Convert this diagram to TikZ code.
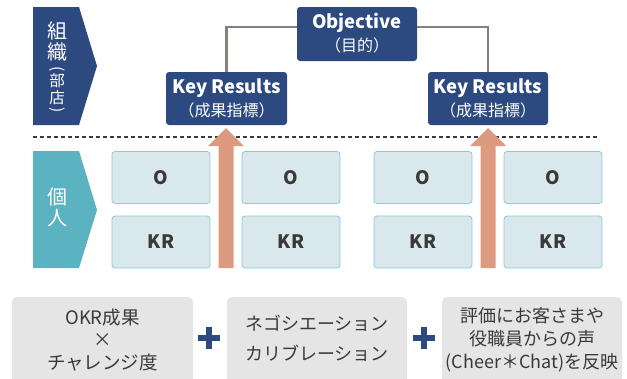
\documentclass[tikz,border=0pt]{standalone}
\usepackage{fontspec}
\setmainfont{Noto Sans CJK JP}
\definecolor{navy}{HTML}{2D4A80}
\definecolor{teal}{HTML}{5BB2C0}
\definecolor{lightfill}{HTML}{D8E8EC}
\definecolor{lightline}{HTML}{8DCAD3}
\definecolor{arrowc}{HTML}{DC9B7F}
\definecolor{connc}{HTML}{86807C}
\definecolor{greyfill}{HTML}{E6E5E6}
\definecolor{txtdark}{HTML}{3B3838}
\definecolor{dashc}{HTML}{3A3A3A}
\tikzset{
  navybox/.style={fill=navy, rounded corners=3pt, minimum width=121pt, minimum height=53pt, inner sep=0pt},
  okbox/.style={fill=lightfill, draw=lightline, line width=0.8pt, rounded corners=3pt, minimum width=98pt, minimum height=52pt, inner sep=0pt, text=txtdark, font=\fontsize{18.5}{22}\selectfont\bfseries},
  greybox/.style={fill=greyfill, rounded corners=5pt, minimum width=181pt, minimum height=90pt, inner sep=0pt},
  btext/.style={text=txtdark, align=center, inner sep=0pt},
  bigw/.style={text=white, inner sep=0pt, font=\fontsize{18.5}{22}\selectfont\bfseries},
  smallw/.style={text=white, inner sep=0pt, font=\fontsize{16}{18}\selectfont},
  bannerbig/.style={text=white, inner sep=0pt, font=\fontsize{20}{22}\selectfont},
  bannersmall/.style={text=white, inner sep=0pt, font=\fontsize{15.5}{17}\selectfont},
  conn/.style={draw=connc, line width=2.6pt},
  plusline/.style={draw=navy, line width=5.5pt},
}
\begin{document}
\begin{tikzpicture}[x=1pt,y=-1pt]
\useasboundingbox (0,0) rectangle (627,378);

% banners
\fill[navy] (33,7) -- (79,7) -- (97,66) -- (79,125) -- (33,125) -- cycle;
\fill[teal] (33,151) -- (79,151) -- (97,210) -- (79,268) -- (33,268) -- cycle;
\node[bannerbig] (c1) at (57,31) {組};
\node[bannerbig] (c2) at (57,52) {織};
\node[bannersmall, rotate=-90] (c3) at (57,69) {(};
\node[bannersmall] (c4) at (57,81) {部};
\node[bannersmall] (c5) at (57,98) {店};
\node[bannersmall, rotate=-90] (c6) at (57,110) {)};
\node[bannerbig] (c7) at (57,197) {個};
\node[bannerbig] (c8) at (57,218) {人};

% top boxes
\node[navybox, minimum width=120pt, minimum height=54pt] (obj) at (357,34) {};
\node[navybox] (krl) at (226.5,98.5) {};
\node[navybox, minimum width=120pt] (krr) at (488,98.5) {};
\node[bigw] (objt) at (357,23) {Objective};
\node[smallw] (objs) at (357,45) {（目的）};
\node[bigw] (krlt) at (226.5,88) {Key Results};
\node[smallw] (krls) at (226.5,110) {（成果指標）};
\node[bigw] (krrt) at (488,88) {Key Results};
\node[smallw] (krrs) at (488,110) {（成果指標）};

\draw[conn] ([yshift=7pt]obj.west) -| (krl.north);
\draw[conn] ([yshift=7pt]obj.east) -| (krr.north);

% dashed separator
\coordinate (dL) at (33,137);
\coordinate (dR) at (598,137);
\draw[dashc, line width=1.3pt, dash pattern=on 4pt off 3pt] (dL) -- (dR);

% individual boxes
\node[okbox] (o1) at (161,177.5) {O};
\node[okbox] (o2) at (291,177.5) {O};
\node[okbox] (o3) at (423,177.5) {O};
\node[okbox] (o4) at (553,177.5) {O};
\node[okbox] (k1) at (161,242) {KR};
\node[okbox] (k2) at (291,242) {KR};
\node[okbox] (k3) at (423,242) {KR};
\node[okbox] (k4) at (553,242) {KR};

% up arrows
\foreach \cx in {226,488}{
  \fill[arrowc] (\cx-7.5,268) -- (\cx-7.5,146) -- (\cx-18,146) -- (\cx,128) -- (\cx+18,146) -- (\cx+7.5,146) -- (\cx+7.5,268) -- cycle;
}

% bottom boxes
\node[greybox] (b1) at (102.5,342) {};
\node[greybox, minimum width=180pt] (b2) at (317,342) {};
\node[greybox, minimum width=180pt] (b3) at (532,342) {};
\node[btext, font=\fontsize{18.5}{22.5}\selectfont] (b1t) at (102.5,340) {OKR成果\\×\\チャレンジ度};
\node[btext, font=\fontsize{18}{30}\selectfont] (b2t) at (317,338) {ネゴシエーション\\カリブレーション};
\node[btext, font=\fontsize{18}{23}\selectfont] (b3t) at (532,340) {評価にお客さまや\\役職員からの声\\(Cheer＊Chat)を反映};

% plus signs
\draw[plusline] (198,338) -- (220,338) (209,327) -- (209,349);
\draw[plusline] (413,338) -- (435,338) (424,327) -- (424,349);
\end{tikzpicture}
\end{document}
